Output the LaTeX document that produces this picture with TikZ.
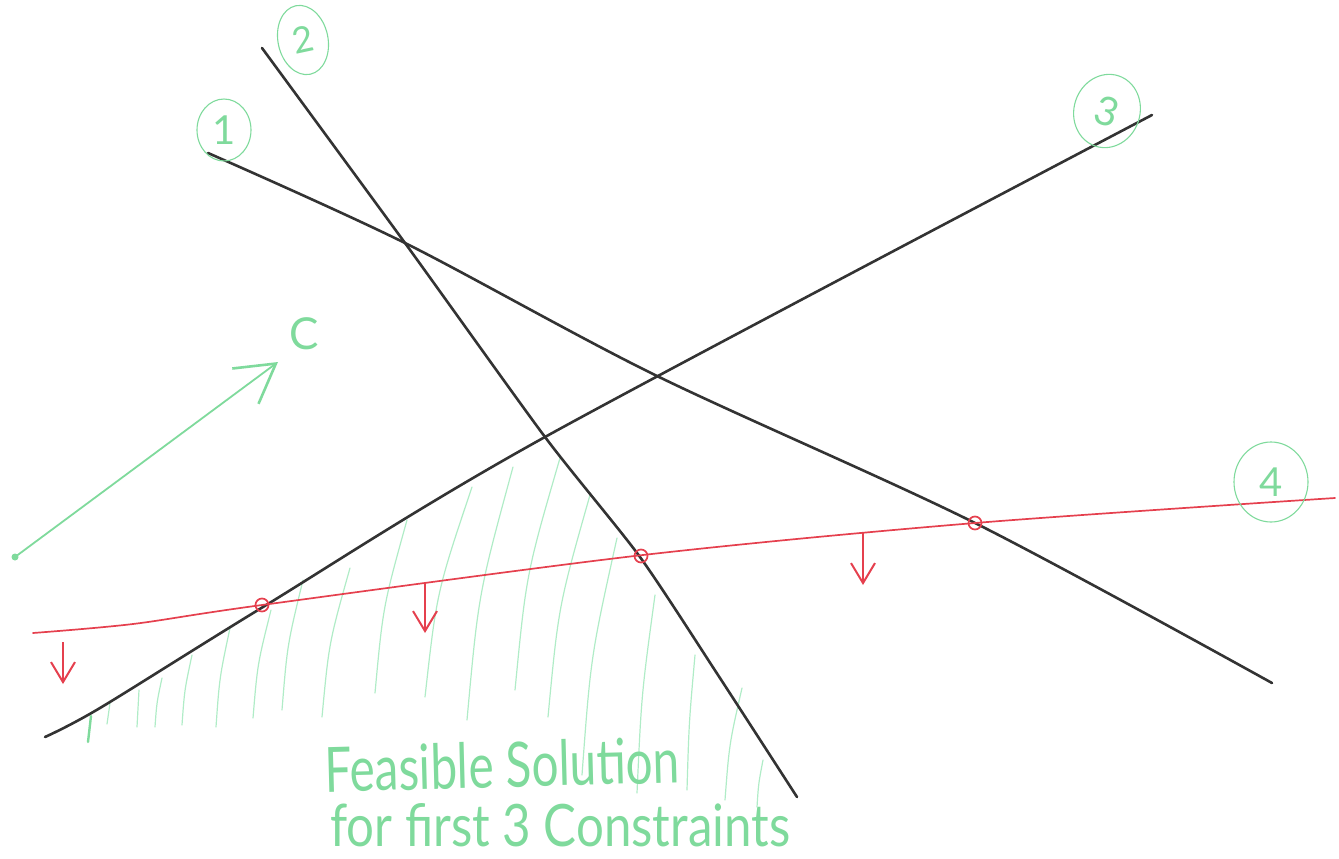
\documentclass[tikz,border=0pt]{standalone}
\usepackage{fontspec}
\setmainfont{Lato}
\usetikzlibrary{arrows.meta,shapes.geometric}
\definecolor{ink}{HTML}{333333}
\definecolor{redink}{HTML}{E5404E}
\definecolor{mint}{HTML}{7FDA9C}
\definecolor{mintlight}{HTML}{B0ECC7}
\tikzset{
  bound/.style={draw=ink, line width=2.6pt, line cap=round},
  redline/.style={draw=redink, line width=1.7pt, line cap=round},
  hatch/.style={draw=mintlight, line width=1.2pt, line cap=round},
  dirarrow/.style={draw=redink, line width=1.8pt, -{Straight Barb[length=20pt,width=24pt,line width=2pt]}},
  cring/.style={circle, draw=redink, line width=1.7pt, minimum size=13pt, inner sep=0pt},
  tag/.style={ellipse, draw=mint, line width=1.1pt, text=mint, inner sep=0pt, font=\fontsize{40}{40}\selectfont},
  handtext/.style={text=mint, inner sep=0pt, anchor=base west}
}
\begin{document}
\begin{tikzpicture}[x=1pt, y=-1pt]
\useasboundingbox (0,0) rectangle (1339,859);

% named points on the constraint lines
\coordinate (a1) at (208,153);
\coordinate (a2) at (262,48);
\coordinate (a3) at (45,737);
\coordinate (a4) at (33,633);
\coordinate (b1) at (1272,683);
\coordinate (b2) at (797,797);
\coordinate (b3) at (1152,115);
\coordinate (b4) at (1335,498);
\coordinate (p12) at (405,243);
\coordinate (p13) at (655,375);
\coordinate (p23) at (545,437);

% hatching of the feasible region
\foreach \xa/\ya/\xb/\yb in {
  107/724/110/703, 137/727/139/690, 155/727/162/678, 182/725/192/655,
  216/727/230/628, 253/718/271/610, 282/710/303/580, 322/717/350/568,
  375/693/407/520, 425/697/472/487, 467/720/513/467, 515/690/560/458,
  548/717/590/495, 582/775/617/538, 637/793/655/595, 687/790/695/655,
  725/800/742/688, 757/807/763/760}
  \draw[hatch] (\xa,\ya) .. controls (\xa*0.75+\xb*0.25,\ya*0.5+\yb*0.5) .. (\xb,\yb);
\draw[hatch, draw=mint, line width=2.4pt] (88,742) -- (91,716);

% constraint lines
\draw[bound] plot[smooth, tension=0.5] coordinates {(a1) (p12) (p13) (975,523) (b1)};
\draw[bound] plot[smooth, tension=0.4] coordinates {(a2) (p12) (p23) (640,557) (718,675) (b2)};
\draw[bound] plot[smooth, tension=0.5] coordinates {(a3) (100,708) (263,607) (p23) (b3)};
\draw[redline] plot[smooth, tension=0.5] coordinates {(a4) (133,624) (262,605) (643,555) (975,523) (b4)};

% intersection marks with constraint 4
\node[cring] (x34) at (262,605) {};
\node[cring] (x24) at (641,556) {};
\node[cring] (x14) at (975,523) {};

% direction arrows of constraint 4
\coordinate (r1s) at (63,642);
\coordinate (r1e) at (63,684);
\coordinate (r2s) at (425,582);
\coordinate (r2e) at (425,633);
\coordinate (r3s) at (863,533);
\coordinate (r3e) at (863,585);
\draw[dirarrow] (r1s) -- (r1e);
\draw[dirarrow] (r2s) -- (r2e);
\draw[dirarrow] (r3s) -- (r3e);

% objective direction C
\coordinate (cs) at (15,557);
\coordinate (ce) at (278,362);
\fill[mint] (cs) circle (3.5pt);
\draw[draw=mint, line width=1.8pt, line cap=round, -{Straight Barb[length=38pt,width=44pt,line width=2.6pt]}] (cs) -- (ce);
\node[text=mint, font=\fontsize{44}{44}\selectfont] (clab) at (304,334) {C};

% constraint tags
\node[tag, minimum width=54pt, minimum height=62pt] (t1) at (224,130) {1};
\node[tag, minimum width=50pt, minimum height=70pt, rotate=12, font=\fontsize{36}{36}\selectfont] (t2) at (303,40) {2};
\node[tag, minimum width=66pt, minimum height=74pt, rotate=-18] (t3) at (1107,111) {3};
\node[tag, minimum width=74pt, minimum height=80pt] (t4) at (1271,482) {4};

% caption
\node[handtext, rotate=1.5] (cap1) at (325,792) {\resizebox{355pt}{46pt}{Feasible Solution}};
\node[handtext] (cap2) at (330,846) {\resizebox{460pt}{43pt}{for first 3 Constraints}};
\end{tikzpicture}
\end{document}
